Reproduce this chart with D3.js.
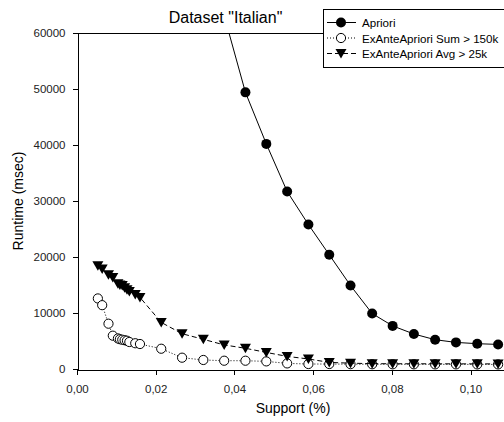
<!DOCTYPE html>
<html>
<head>
<meta charset="utf-8">
<script src="https://cdn.jsdelivr.net/npm/d3@7"></script>
<style>
  body { margin: 0; background: #fff; }
  text { font-family: "Liberation Sans", Arial, sans-serif; fill: #000; }
  .axis path, .axis line { stroke: #000; stroke-width: 1; shape-rendering: crispEdges; }
  .axis text { font-size: 11.5px; fill: #222; }
</style>
</head>
<body>
<div id="chart"></div>
<script>
"use strict";

// Data
// ---------------------------

var support = [0.0053, 0.0064, 0.0080, 0.0091, 0.0104, 0.0109, 0.0115, 0.0121, 0.0127, 0.0133, 0.0148, 0.0160,
               0.0214, 0.0267, 0.0321, 0.0374, 0.0428, 0.0481, 0.0534, 0.0588, 0.0641, 0.0695,
               0.0750, 0.0802, 0.0856, 0.0910, 0.0963, 0.1017, 0.1070];

var apriori = [null, null, null, null, null, null, null, null, null, null, null, null,
               null, null, null, 63100, 49400, 40200, 31700, 25800, 20400, 14900,
               9900, 7700, 6250, 5230, 4750, 4520, 4390];

var sum150k = [12600, 11400, 8090, 5950, 5460, 5320, 5230, 5140, 5050, 4820, 4600, 4460,
               3620, 2020, 1610, 1480, 1480, 1360, 1000, 890, 890, 860,
               850, 840, 840, 830, 830, 820, 820];

var avg25k  = [18440, 17850, 16840, 16360, 15230, 15000, 14930, 14500, 14160, 13860, 13320, 12790,
               8320, 6300, 5300, 4300, 3700, 2960, 2250, 1790, 1180, 1040,
               950, 940, 930, 930, 920, 920, 910];

var seriesNames = ["Apriori", "ExAnteApriori Sum > 150k", "ExAnteApriori Avg > 25k"];
var xTicks = [0, 0.02, 0.04, 0.06, 0.08, 0.10];
var yTicks = [0, 10000, 20000, 30000, 40000, 50000, 60000];


// Layout
// ------

var W = 504, H = 422,
    pLeft = 77, pTop = 33, pRight = 504, pBottom = 369;

var svg = d3.select("#chart").append("svg")
    .attr("width", W)
    .attr("height", H);

var x = d3.scaleLinear().domain([0, 0.1085]).range([pLeft, pRight]);
var y = d3.scaleLinear().domain([0, 60000]).range([pBottom, pTop]);

svg.append("defs").append("clipPath")
    .attr("id", "plot")
  .append("rect")
    .attr("x", pLeft).attr("y", pTop)
    .attr("width", pRight - pLeft).attr("height", pBottom - pTop);


// Axes and frame

svg.append("line")
    .attr("x1", pLeft).attr("x2", pRight)
    .attr("y1", pTop + 0.5).attr("y2", pTop + 0.5)
    .attr("stroke", "#000")
    .attr("shape-rendering", "crispEdges");

svg.append("g")
    .attr("class", "axis")
    .attr("transform", "translate(0," + (pBottom + 0.5) + ")")
    .call(d3.axisBottom(x).tickValues(xTicks).tickSize(5).tickPadding(10).tickSizeOuter(0)
      .tickFormat(function(d) { return d3.format(".2f")(d).replace(".", ","); }));

svg.append("g")
    .attr("class", "axis")
    .attr("transform", "translate(" + (pLeft + 0.5) + ",0)")
    .call(d3.axisLeft(y).tickValues(yTicks).tickSize(5).tickPadding(7).tickSizeOuter(0)
      .tickFormat(d3.format("d")));


// Titles

svg.append("text")
    .attr("x", 225.5).attr("y", 23)
    .attr("text-anchor", "middle")
    .style("font-size", "16px")
    .text('Dataset "Italian"');

svg.append("text")
    .attr("x", 293).attr("y", 413)
    .attr("text-anchor", "middle")
    .style("font-size", "14px")
    .text("Support (%)");

svg.append("text")
    .attr("transform", "translate(23," + ((pTop + pBottom) / 2) + ") rotate(-90)")
    .attr("text-anchor", "middle")
    .style("font-size", "14px")
    .text("Runtime (msec)");


// Curves
// ------

var styles = [
  { values: apriori, dash: null,  marker: "dot" },
  { values: sum150k, dash: "1,2", marker: "ring" },
  { values: avg25k,  dash: "5,3", marker: "tri" }
];

function drawMarker(g, kind, cx, cy) {
  if (kind == "dot") {
    g.append("circle").attr("cx", cx).attr("cy", cy).attr("r", 5).attr("fill", "#000");
  }
  else if (kind == "ring") {
    g.append("circle").attr("cx", cx).attr("cy", cy).attr("r", 4.6)
        .attr("fill", "#fff").attr("stroke", "#000").attr("stroke-width", 1);
  }
  else {
    g.append("path")
        .attr("d", "M" + (cx - 5.5) + "," + (cy - 4.5) + "L" + (cx + 5.5) + "," + (cy - 4.5) +
                   "L" + cx + "," + (cy + 5) + "Z")
        .attr("fill", "#000");
  }
}

var line = d3.line()
    .defined(function(d) { return d[1] != null; })
    .x(function(d) { return x(d[0]); })
    .y(function(d) { return y(d[1]); });

styles.forEach(function(s) {
  var pts = support.map(function(v, i) { return [v, s.values[i]]; });
  svg.append("path")
      .attr("clip-path", "url(#plot)")
      .attr("d", line(pts))
      .attr("fill", "none")
      .attr("stroke", "#000")
      .attr("stroke-width", 1)
      .attr("stroke-dasharray", s.dash);

  var g = svg.append("g");
  pts.forEach(function(d) {
    if (d[1] != null && d[1] <= 60000) drawMarker(g, s.marker, x(d[0]), y(d[1]));
  });
});


// Legend
// ------

var lg = svg.append("g");
lg.append("rect")
    .attr("x", 323.5).attr("y", 9.5)
    .attr("width", 200).attr("height", 58)
    .attr("fill", "#fff").attr("stroke", "#000");

styles.forEach(function(s, i) {
  var ly = 22.5 + i * 15.5;
  lg.append("line")
      .attr("x1", 327).attr("x2", 356)
      .attr("y1", ly).attr("y2", ly)
      .attr("stroke", "#000")
      .attr("stroke-dasharray", s.dash);
  drawMarker(lg, s.marker, 341, ly);
  lg.append("text")
      .attr("x", 362).attr("y", ly + 4.5)
      .style("font-size", "11.6px")
      .text(seriesNames[i]);
});
</script>
</body>
</html>
